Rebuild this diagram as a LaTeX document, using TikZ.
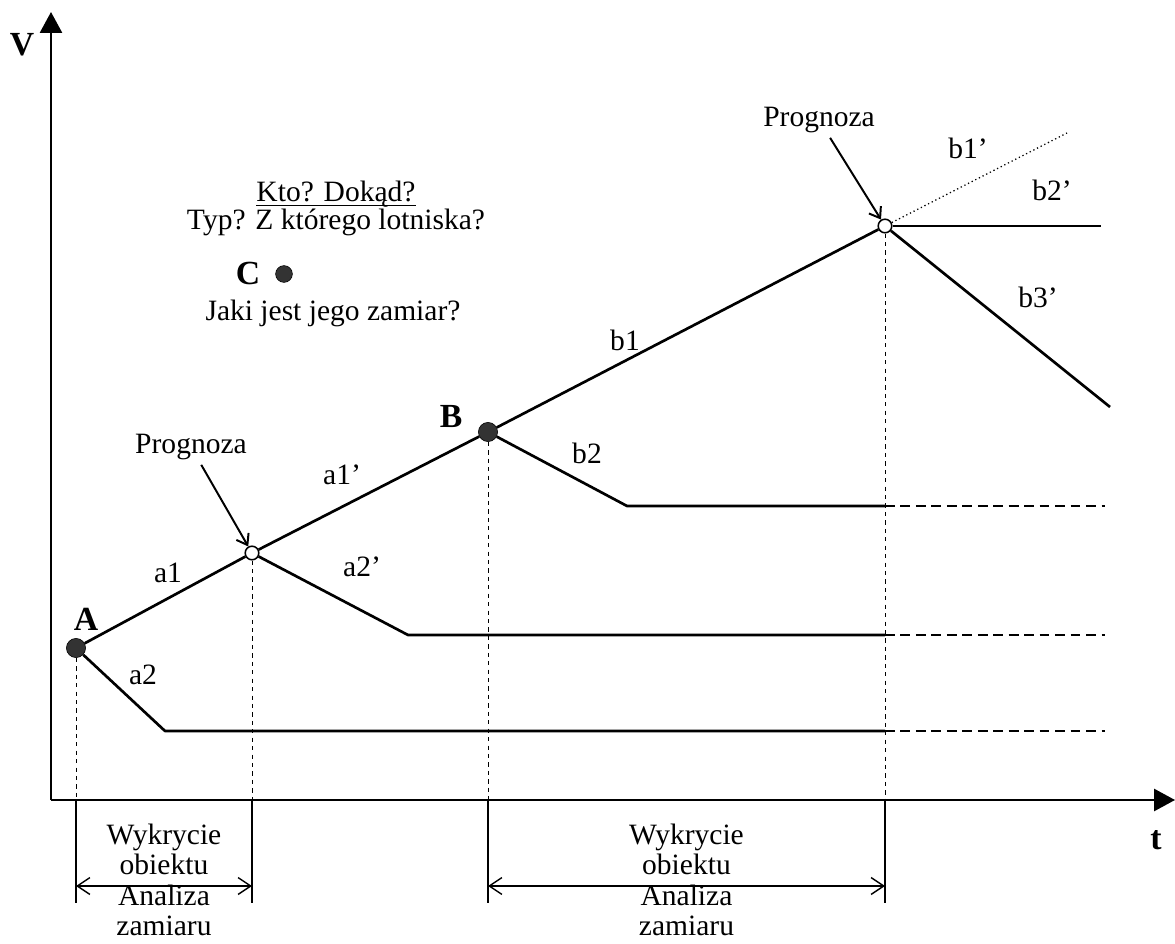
\documentclass[tikz,border=0pt]{standalone}
\usepackage{fontspec}
\setmainfont{Liberation Serif}
\usepackage{tikz}
\usetikzlibrary{arrows.meta, positioning, calc}

\tikzset{
  lbl/.style={font=\fontsize{21}{23}\selectfont},
  spantext/.style={font=\fontsize{21}{21.5}\selectfont, align=center, inner sep=1pt},
  bigb/.style={font=\fontsize{24}{26}\selectfont\bfseries},
  track/.style={line width=1.9pt, line join=round},
  tail/.style={line width=1.7pt, dash pattern=on 7pt off 4pt},
  guide/.style={line width=0.7pt, dash pattern=on 3pt off 3pt},
  axis/.style={line width=1.5pt, -{Triangle[length=0.52cm, width=0.55cm]}},
  fix/.style={circle, fill=black!80, draw=black, inner sep=0pt, minimum size=0.48cm},
  prog/.style={circle, fill=white, draw=black, line width=1.1pt, inner sep=0pt, minimum size=0.34cm},
  hint/.style={line width=1.4pt, -{Straight Barb[length=7pt, width=10pt]}},
  span/.style={line width=1pt, {Straight Barb[length=9pt, width=12pt]}-{Straight Barb[length=9pt, width=12pt]}},
}

\begin{document}
\begin{tikzpicture}
  \useasboundingbox (-1.275, -3.575) rectangle (28.1, 20);

  % Axes
  \coordinate (O) at (0, 0);
  \coordinate (vtop) at (0, 19.7);
  \coordinate (ttip) at (28.1, 0);
  \coordinate (low) at (0, -2.575);
  \coordinate (dim) at (0, -2.15);
  \draw[axis] (O) -- (vtop);
  \draw[axis] (O) -- (ttip);
  \node[bigb] (vlab) at (-0.725, 18.875) {V};
  \node[bigb] (tlab) at (27.625, -1.0) {t};

  % Points on the track
  \node[fix] (A) at (0.625, 3.8) {};
  \node[prog] (P1) at (5.025, 6.175) {};
  \node[fix] (B) at (10.925, 9.2) {};
  \node[prog] (P2) at (20.85, 14.35) {};
  \node[bigb] (Alab) at (0.875, 4.525) {A};
  \node[bigb] (Blab) at (10.0, 9.575) {B};

  % Knees and free ends
  \coordinate (ka2) at (2.85, 1.725);
  \coordinate (ka2p) at (8.925, 4.125);
  \coordinate (kb2) at (14.4, 7.35);
  \coordinate (eb1p) at (25.4, 16.675);
  \coordinate (eb2p) at (26.25, 14.35);
  \coordinate (eb3p) at (26.475, 9.825);

  % Vertical guides
  \foreach \p in {A, P1, B, P2} {
    \draw[guide] (\p) -- (\p |- O);
    \draw[line width=0.8pt] (\p |- O) -- (\p |- low);
  }

  % Main track
  \draw[track] (A) -- (P1) -- (B) -- (P2);

  % Side branches
  \draw[track] (A) -- (ka2) -- (ka2 -| P2) coordinate (ea2);
  \draw[tail] (ea2) -- ++(5.5, 0);
  \draw[track] (P1) -- (ka2p) -- (ka2p -| P2) coordinate (ea2p);
  \draw[tail] (ea2p) -- ++(5.5, 0);
  \draw[track] (B) -- (kb2) -- (kb2 -| P2) coordinate (eb2);
  \draw[tail] (eb2) -- ++(5.5, 0);
  \draw[line width=0.9pt, dotted] (P2) -- (eb1p);
  \draw[track] (P2) -- (eb2p);
  \draw[track] (P2) -- (eb3p);

  % Branch labels
  \node[lbl] (a1) at (2.925, 5.675) {a1};
  \node[lbl] (a2) at (2.3, 3.125) {a2};
  \node[lbl] (a1p) at (7.275, 8.125) {a1’};
  \node[lbl] (a2p) at (7.775, 5.825) {a2’};
  \node[lbl] (b1) at (14.35, 11.5) {b1};
  \node[lbl] (b2) at (13.4, 8.675) {b2};
  \node[lbl] (b1p) at (22.925, 16.3) {b1’};
  \node[lbl] (b2p) at (25.025, 15.25) {b2’};
  \node[lbl] (b3p) at (24.675, 12.575) {b3’};

  % Forecasts
  \node[lbl] (prog1) at (3.5, 8.825) {Prognoza};
  \draw[hint] (prog1) -- (P1);
  \node[lbl] (prog2) at (19.2, 17.0) {Prognoza};
  \draw[hint] (prog2) -- (P2);

  % Unknown object
  \node[lbl] (kto) at (7.125, 15.15) {Kto? Dokąd?};
  \draw[line width=0.8pt] ($(kto.base west) + (0.12, -0.1)$) -- ($(kto.base east) + (-0.12, -0.1)$);
  \node[lbl] (typ) at (7.125, 14.45) {Typ? Z którego lotniska?};
  \node[bigb] (C) at (4.925, 13.175) {C};
  \node[fix, minimum size=0.42cm] (Cdot) at (5.825, 13.15) {};
  \node[lbl] (zam) at (7.05, 12.175) {Jaki jest jego zamiar?};

  % Time spans
  \draw[span] (A |- dim) -- (P1 |- dim);
  \node[spantext] (span1) at ($(A |- dim)!0.5!(P1 |- dim) + (0, 0.15)$)
    {Wykrycie\\obiektu\\Analiza\\zamiaru};
  \draw[span] (B |- dim) -- (P2 |- dim);
  \node[spantext] (span2) at ($(B |- dim)!0.5!(P2 |- dim) + (0, 0.15)$)
    {Wykrycie\\obiektu\\Analiza\\zamiaru};
\end{tikzpicture}
\end{document}
